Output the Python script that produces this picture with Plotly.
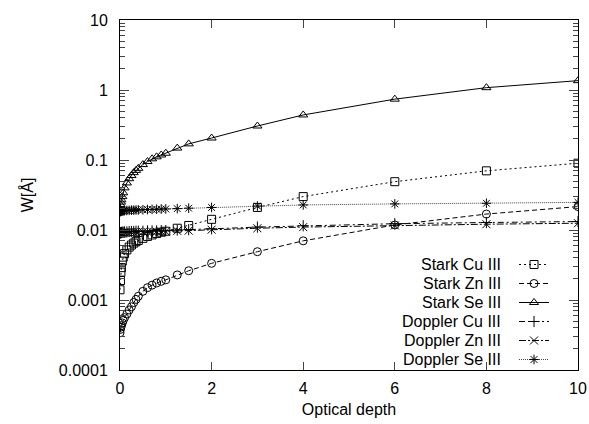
import plotly.graph_objects as go

# Optical depth sample points
tau = [0, 0.01, 0.02, 0.03, 0.05, 0.07, 0.1, 0.15, 0.2, 0.25, 0.3, 0.35, 0.4,
       0.5, 0.6, 0.7, 0.8, 0.9, 1.0, 1.25, 1.5, 2, 3, 4, 6, 8, 10]

stark_cu = [0.0014, 0.0019, 0.0025, 0.0029, 0.0036, 0.0041, 0.0046, 0.0052, 0.0057,
            0.0061, 0.0065, 0.0068, 0.0071, 0.0076, 0.0081, 0.0085, 0.0089, 0.0093,
            0.0096, 0.0106, 0.0116, 0.0142, 0.021, 0.030, 0.049, 0.070, 0.090]
stark_zn = [0.00034, 0.00038, 0.00041, 0.00043, 0.00047, 0.00051, 0.00056, 0.00063,
            0.00072, 0.0008, 0.00092, 0.00102, 0.00113, 0.00133, 0.0015, 0.00163,
            0.00175, 0.00185, 0.00194, 0.00228, 0.00262, 0.00334, 0.0049, 0.0070,
            0.0118, 0.0169, 0.0216]
stark_se = [0.020, 0.023, 0.025, 0.027, 0.030, 0.034, 0.040, 0.047, 0.054, 0.060,
            0.066, 0.071, 0.076, 0.086, 0.095, 0.104, 0.111, 0.118, 0.125, 0.148,
            0.17, 0.206, 0.306, 0.44, 0.74, 1.08, 1.36]
doppler_cu = [0.0091, 0.0091, 0.0092, 0.0092, 0.0093, 0.0093, 0.0094, 0.0094, 0.0095,
              0.0095, 0.0095, 0.0096, 0.0096, 0.0096, 0.0097, 0.0097, 0.0097, 0.0098,
              0.0098, 0.0100, 0.0101, 0.0104, 0.0110, 0.0115, 0.0123, 0.0128, 0.0132]
doppler_zn = [0.0089, 0.0089, 0.0090, 0.0090, 0.0091, 0.0091, 0.0092, 0.0092, 0.0092,
              0.0093, 0.0093, 0.0093, 0.0094, 0.0094, 0.0094, 0.0095, 0.0095, 0.0095,
              0.0095, 0.0097, 0.0098, 0.0101, 0.0106, 0.0110, 0.0116, 0.0121, 0.0125]
doppler_se = [0.0183, 0.0184, 0.0185, 0.0186, 0.0187, 0.0188, 0.0189, 0.0190, 0.0191,
              0.0192, 0.0192, 0.0193, 0.0194, 0.0195, 0.0196, 0.0197, 0.0198, 0.0199,
              0.0200, 0.0202, 0.0205, 0.0210, 0.0220, 0.0228, 0.0236, 0.0241, 0.0248]

series_names = ["Stark Cu III", "Stark Zn III", "Stark Se III",
                "Doppler Cu III", "Doppler Zn III", "Doppler Se III"]
series_values = [stark_cu, stark_zn, stark_se, doppler_cu, doppler_zn, doppler_se]
symbols = ["square-open", "circle-open", "triangle-up-open",
           "cross-thin-open", "x-thin-open", "asterisk-open"]
dashes = ["2px,3px", "5px,3px", "solid", "6px,3px,2px,3px", "7px,2px,2px,2px", "1px,1px"]
line_colors = ["black", "black", "black", "black", "black", "#444"]

x_ticks = [0, 2, 4, 6, 8, 10]
y_ticks = [0.0001, 0.001, 0.01, 0.1, 1, 10]
y_tick_labels = ["0.0001", "0.001", "0.01", "0.1", "1", "10"]

FONT = "Liberation Sans, Arial, sans-serif"

fig = go.Figure()
for name, vals, sym, dash, lc in zip(series_names, series_values, symbols, dashes, line_colors):
    fig.add_trace(go.Scatter(
        x=tau, y=vals, mode="lines+markers", name=" ",
        line=dict(color=lc, width=1, dash=dash),
        marker=dict(symbol=sym, size=8, color="black", line=dict(color="black", width=1)),
    ))

minor_vals = [m * 10 ** e for e in range(-4, 1) for m in range(2, 10)]

fig.update_layout(
    width=589, height=424,
    margin=dict(l=120, r=11, t=20, b=54, autoexpand=False),
    paper_bgcolor="white", plot_bgcolor="white",
    font=dict(family=FONT, size=16, color="black"),
    showlegend=True,
    legend=dict(x=0.8603, xanchor="left", y=0.3429, yanchor="top",
                bgcolor="rgba(0,0,0,0)", borderwidth=0,
                font=dict(size=12), itemclick=False),
    xaxis=dict(
        range=[0, 10], tickvals=x_ticks, ticks="inside", ticklen=8,
        showline=True, linecolor="black", linewidth=1, mirror="ticks",
        showgrid=False, zeroline=False, ticklabelstandoff=4, automargin=False,
        title=dict(text="Optical depth", standoff=7, font=dict(size=16)),
        tickfont=dict(size=16),
    ),
    yaxis=dict(
        type="log", range=[-4, 1], tickvals=y_ticks, ticktext=y_tick_labels,
        ticks="inside", ticklen=9,
        showline=True, linecolor="black", linewidth=1, mirror="ticks",
        showgrid=False, zeroline=False, ticklabelstandoff=8, automargin=False,
        minor=dict(tickvals=minor_vals, ticks="inside", ticklen=5, showgrid=False),
        title=dict(text="W[Å]", standoff=21, font=dict(size=16)),
        tickfont=dict(size=16),
    ),
)

# legend labels placed to the left of the legend samples
row_y = [0.3014, 0.2471, 0.1929, 0.1386, 0.0843, 0.0300]
for name, yy in zip(series_names, row_y):
    fig.add_annotation(text=name, xref="paper", yref="paper", x=0.836, y=yy,
                       xanchor="right", yanchor="middle", showarrow=False,
                       font=dict(family=FONT, size=16, color="black"))

# remove the default page margin so the 589x424 figure fills the window exactly
fig.write_html("out.html",
               config={"displayModeBar": False},
               post_script="document.body.style.margin='0';document.body.style.overflow='hidden';")
